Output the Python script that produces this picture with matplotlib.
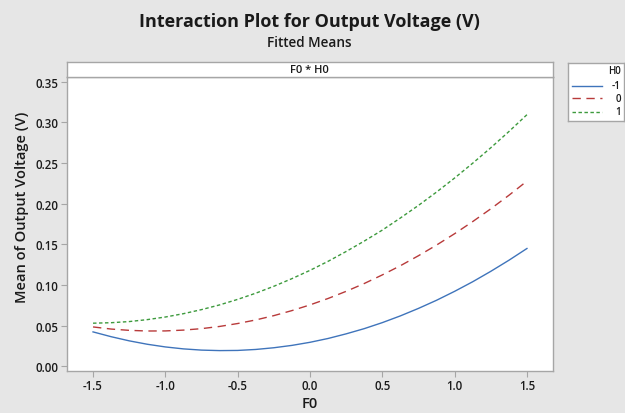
import matplotlib
matplotlib.use("Agg")
import matplotlib.pyplot as plt
from matplotlib.lines import Line2D

plt.rcParams['font.family'] = ['Open Sans', 'DejaVu Sans']

# ---- data ----
f0 = [-1.5, -1.375, -1.25, -1.125, -1.0, -0.875, -0.75, -0.625, -0.5, -0.375, -0.25, -0.125,
      0.0, 0.125, 0.25, 0.375, 0.5, 0.625, 0.75, 0.875, 1.0, 1.125, 1.25, 1.375, 1.5]
h0_levels = ["-1", "0", "1"]
mean_h0_m1 = [0.0423, 0.0364, 0.0313, 0.0271, 0.0238, 0.0214, 0.0199, 0.0193, 0.0195, 0.0207,
              0.0228, 0.0257, 0.0295, 0.0342, 0.0399, 0.0463, 0.0537, 0.0620, 0.0712, 0.0812,
              0.0922, 0.1040, 0.1168, 0.1304, 0.1449]
mean_h0_0 = [0.0484, 0.0458, 0.0442, 0.0434, 0.0435, 0.0445, 0.0463, 0.0490, 0.0526, 0.0570,
             0.0623, 0.0685, 0.0755, 0.0834, 0.0922, 0.1018, 0.1124, 0.1237, 0.1360, 0.1491,
             0.1631, 0.1780, 0.1937, 0.2103, 0.2278]
mean_h0_1 = [0.0530, 0.0536, 0.0550, 0.0574, 0.0606, 0.0647, 0.0697, 0.0755, 0.0823, 0.0899,
             0.0984, 0.1078, 0.1180, 0.1291, 0.1412, 0.1540, 0.1675, 0.1824, 0.1979, 0.2143,
             0.2316, 0.2498, 0.2688, 0.2887, 0.3095]
x_ticks = [-1.5, -1.0, -0.5, 0.0, 0.5, 1.0, 1.5]
y_ticks = [0.00, 0.05, 0.10, 0.15, 0.20, 0.25, 0.30, 0.35]

series = [mean_h0_m1, mean_h0_0, mean_h0_1]
colors = ['#3f74bb', '#b83a3a', '#3d9a3d']
styles = ['-', (0, (6, 4)), (0, (2.5, 1.8))]

W, H = 625, 414
bg = '#e6e6e6'
edge = '#a6a6a6'
txt = '#1a1a1a'

fig = plt.figure(figsize=(W / 100, H / 100), dpi=100, facecolor=bg)

def rect(x0, y0, x1, y1):
    return [x0 / W, 1 - y1 / H, (x1 - x0) / W, (y1 - y0) / H]

ax = fig.add_axes(rect(66.7, 77.7, 552.7, 372))
for yv, c, ls in zip(series, colors, styles):
    ax.plot(f0, yv, color=c, linestyle=ls, linewidth=1.0)
ax.set_xlim(-1.682, 1.678)
ax.set_ylim(-0.0058, 0.3562)
ax.set_xticks(x_ticks)
ax.set_xticklabels([f"{v:.1f}" for v in x_ticks])
ax.set_yticks(y_ticks)
ax.set_yticklabels([f"{v:.2f}" for v in y_ticks])
for s in ax.spines.values():
    s.set_color(edge)
    s.set_linewidth(1.0)
ax.tick_params(axis='both', direction='out', length=4, width=0.8, color=edge,
               labelsize=8.3, labelcolor=txt, pad=2)
for lab in ax.get_xticklabels() + ax.get_yticklabels():
    lab.set_fontweight('semibold')
ax.set_xlabel('F0', fontsize=10.5, fontweight='semibold', color=txt, labelpad=3)
ax.set_ylabel('Mean of Output Voltage (V)', fontsize=10.5, fontweight='semibold', color=txt)
ax.yaxis.set_label_coords(-0.077, 0.56)

# panel header strip
hax = fig.add_axes(rect(66.7, 63.3, 552.7, 77.7))
hax.set_xticks([]); hax.set_yticks([])
for s in hax.spines.values():
    s.set_color(edge)
    s.set_linewidth(1.0)
hax.text(0.5, 0.5, 'F0 * H0', ha='center', va='center', fontsize=8,
         fontweight='semibold', color=txt, transform=hax.transAxes)

# titles
fig.text(309.7 / W, 1 - 22 / H, 'Interaction Plot for Output Voltage (V)', ha='center',
         va='center', fontsize=13, fontweight='bold', color=txt)
fig.text(309.7 / W, 1 - 43 / H, 'Fitted Means', ha='center', va='center',
         fontsize=9.8, fontweight='semibold', color=txt)

# legend box
lax = fig.add_axes(rect(568, 64, 623.5, 122))
lax.set_xlim(568, 623.5)
lax.set_ylim(122, 64)
lax.set_xticks([]); lax.set_yticks([])
for s in lax.spines.values():
    s.set_color(edge)
    s.set_linewidth(1.0)
lax.text(621, 71.5, 'H0', ha='right', va='center', fontsize=7, fontweight='semibold', color=txt)
for lev, c, ls, yy in zip(h0_levels, colors, styles, [86.7, 99, 112.5]):
    lax.add_line(Line2D([572, 602], [yy, yy], color=c, linestyle=ls, linewidth=1.0))
    lax.text(621, yy, lev, ha='right', va='center', fontsize=7, fontweight='semibold', color=txt)

fig.savefig('out.png', dpi=100, facecolor=bg)
